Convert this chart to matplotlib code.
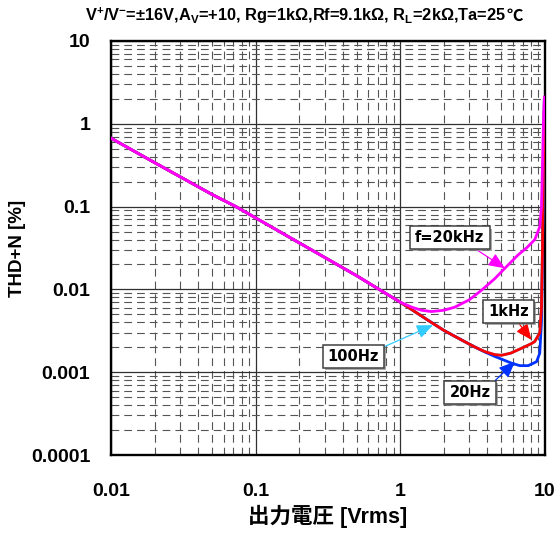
import matplotlib
matplotlib.use('Agg')
import matplotlib.pyplot as plt
import matplotlib.patheffects as pe
from matplotlib.ticker import FixedLocator, LogLocator, NullFormatter

plt.rcParams['font.family'] = ['Liberation Sans', 'Noto Sans CJK JP', 'DejaVu Sans']
plt.rcParams['font.weight'] = 'bold'
plt.rcParams['mathtext.fontset'] = 'custom'
plt.rcParams['mathtext.rm'] = 'Liberation Sans:bold'
plt.rcParams['mathtext.bf'] = 'Liberation Sans:bold'
plt.rcParams['mathtext.default'] = 'bf'

# --- data (output voltage Vrms, THD+N %) ---
# shared noise-floor segment, all frequencies sit on it
v_low = [0.01, 0.02, 0.05, 0.073, 0.1, 0.2, 0.5, 0.7, 1.0]
thd_low = [0.67, 0.34, 0.14, 0.1, 0.073, 0.0365, 0.0146, 0.0102, 0.0070]

v_20k = [1.2, 1.4, 1.64, 2.0, 2.38, 3.0, 3.65, 4.5, 5.28, 6.5, 7.5, 8.5, 9.2, 9.45, 9.6, 9.75, 9.9]
thd_20k = [0.0061, 0.0056, 0.0054, 0.0056, 0.0061, 0.0075, 0.0098, 0.0135, 0.018,
           0.026, 0.032, 0.040, 0.057, 0.1, 0.3, 1.0, 2.1]

v_1k = [1.3, 1.6, 2.0, 2.65, 3.3, 3.85, 4.5, 5.0, 5.8, 6.9, 8.0, 8.5, 9.2, 9.45, 9.6, 9.75, 9.9]
thd_1k = [0.0052, 0.0041, 0.0032, 0.00245, 0.002, 0.00177, 0.00163, 0.0016, 0.0017,
          0.00195, 0.0022, 0.00235, 0.003, 0.006, 0.03, 0.3, 2.0]

v_100 = [1.3, 1.6, 2.0, 2.65, 3.3, 3.85, 4.5, 5.0, 5.8, 6.9, 8.0, 8.5, 9.2, 9.45, 9.6, 9.75, 9.9]
thd_100 = [0.0052, 0.0041, 0.0032, 0.00245, 0.002, 0.00176, 0.00162, 0.0016, 0.0017,
           0.00195, 0.0022, 0.00235, 0.003, 0.006, 0.03, 0.3, 2.0]

v_20 = [1.3, 1.6, 2.0, 2.65, 3.3, 3.85, 4.5, 5.2, 5.9, 6.7, 7.65, 8.75, 9.2, 9.45, 9.6, 9.75, 9.9]
thd_20 = [0.0052, 0.0041, 0.0032, 0.00245, 0.002, 0.00175, 0.00155, 0.0014, 0.00128,
          0.0012, 0.0012, 0.00134, 0.0017, 0.004, 0.02, 0.2, 2.0]

x_ticks = [0.01, 0.1, 1, 10]
x_labels = ['0.01', '0.1', '1', '10']
y_ticks = [0.0001, 0.001, 0.01, 0.1, 1, 10]
y_labels = ['0.0001', '0.001', '0.01', '0.1', '1', '10']

# label boxes: (text, text pos, arrow tip, colour, arrow start on box)
labels = [
    ('f=20kHz', (2.2, 0.042), (5.28, 0.018), '#FF00FF', (0.79, 0.0)),
    ('1kHz', (5.57, 0.0054), (8.07, 0.00245), '#FF0000', (0.68, 0.0)),
    ('100Hz', (0.474, 0.00155), (1.68, 0.0037), '#33CCFF', (1.0, 1.0)),
    ('20Hz', (3.03, 0.00057), (6.2, 0.00134), '#0033FF', (1.0, 1.0)),
]

fig = plt.figure(figsize=(5.58, 5.37), dpi=100)
ax = fig.add_axes([111 / 558, 1 - 455 / 537, 434 / 558, 414 / 537])
ax.set_xscale('log')
ax.set_yscale('log')
ax.set_xlim(0.01, 10)
ax.set_ylim(0.0001, 10)

ax.xaxis.set_major_locator(FixedLocator(x_ticks))
ax.yaxis.set_major_locator(FixedLocator(y_ticks))
ax.set_xticklabels(x_labels)
ax.set_yticklabels(y_labels)
ax.xaxis.set_minor_locator(LogLocator(base=10, subs=range(2, 10), numticks=20))
ax.yaxis.set_minor_locator(LogLocator(base=10, subs=range(2, 10), numticks=20))
ax.xaxis.set_minor_formatter(NullFormatter())
ax.yaxis.set_minor_formatter(NullFormatter())
ax.tick_params(which='both', length=0)
ax.tick_params(axis='x', pad=20, labelsize=14)
ax.tick_params(axis='y', pad=15, labelsize=14)

ax.grid(True, which='major', color='#303030', lw=0.9, ls='-')
ax.grid(True, which='minor', color='#555555', lw=0.8, ls=(0, (7, 4.5)))
ax.set_axisbelow(True)
for s in ax.spines.values():
    s.set_linewidth(1.7)
    s.set_color('black')

lw = 2.0
ax.plot(v_low + v_100, thd_low + thd_100, color='#33CCFF', lw=lw, zorder=3)
ax.plot(v_low + v_20, thd_low + thd_20, color='#0033FF', lw=lw, zorder=4)
ax.plot(v_low + v_1k, thd_low + thd_1k, color='#FF0000', lw=lw, zorder=5)
ax.plot(v_low + v_20k, thd_low + thd_20k, color='#FF00FF', lw=lw, zorder=6)

for txt, pos, tip, col, rel in labels:
    t = ax.annotate(txt, xy=tip, xytext=pos, fontsize=10.5, fontweight='bold',
                    family=['DejaVu Sans'], ha='center', va='center', zorder=8,
                    bbox=dict(boxstyle='square,pad=0.35', fc='white', ec='#404040',
                              lw=1.1, mutation_aspect=0.75),
                    arrowprops=dict(arrowstyle='-|>,head_length=0.7,head_width=0.3',
                                    color=col, lw=0.9, relpos=rel,
                                    shrinkA=0, shrinkB=0, mutation_scale=14))
    t.get_bbox_patch().set_path_effects([
        pe.SimplePatchShadow(offset=(1.5, -1.5), shadow_rgbFace='#888888', alpha=0.7),
        pe.Normal()])

# title: mathtext part, then the degree sign from a CJK font right after it
ty = 1 - 16 / 537
t1 = fig.text(85 / 558, ty,
              r'V$^{+}$/V$^{-}$=±16V,A$_{V}$=+10, Rg=1kΩ,Rf=9.1kΩ, R$_{L}$=2kΩ,Ta=25',
              ha='left', va='center', fontsize=11.8, fontweight='bold')
fig.canvas.draw()
bb = t1.get_window_extent()
fig.text(bb.x1 / 558, ty, '℃', ha='left', va='center', fontsize=11.8,
         fontweight='bold', family=['Noto Sans CJK JP'])

fig.text(328 / 558, 1 - 516 / 537, '出力電圧 [Vrms]', ha='center', va='center',
         fontsize=15.5, fontweight='bold')
fig.text(18 / 558, 1 - 248 / 537, 'THD+N [%]', ha='center', va='center',
         rotation=90, fontsize=13.5, fontweight='bold')

fig.savefig('out.png', dpi=100)
